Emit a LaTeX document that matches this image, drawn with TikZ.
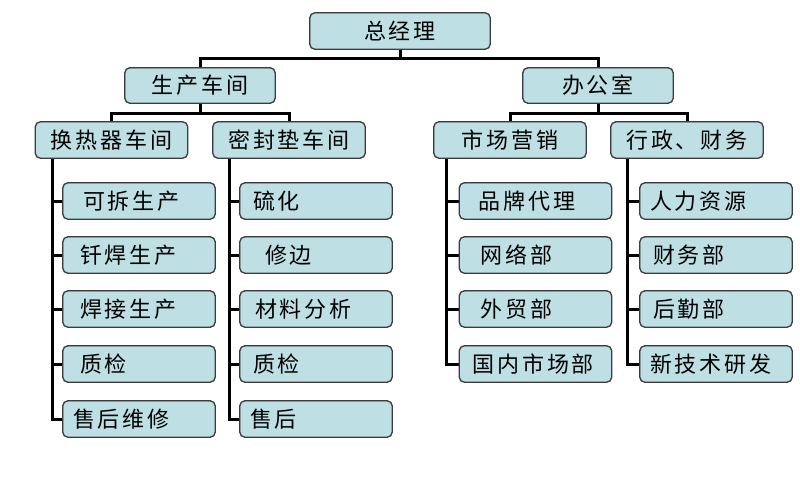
\documentclass[tikz,border=0pt]{standalone}
\usepackage{fontspec}
\newfontfamily\cjk[LetterSpace=13]{Noto Sans CJK SC}
\definecolor{boxfill}{RGB}{190,224,228}
\definecolor{boxline}{RGB}{60,60,60}
\begin{document}
\begin{tikzpicture}[x=1pt,y=-1pt,
  box/.style={draw=boxline, line width=0.8pt, fill=boxfill, rounded corners=5pt,
    minimum height=36pt, inner sep=0pt, font=\cjk\fontsize{22}{26}\selectfont},
  mid/.style={box, minimum width=152pt},
  leaf/.style={box, minimum width=152pt, text width=142pt, align=left, inner xsep=5pt},
  conn/.style={line width=3pt, black}]
\useasboundingbox (0,0) rectangle (800,496);
% top levels
\node[box, minimum width=180pt] (gm) at (400,31) {总经理};
\node[box, minimum width=150pt, minimum height=35pt] (sc) at (200,85.5) {生产车间};
\node[box, minimum width=150pt, minimum height=35pt] (bg) at (598,85.5) {办公室};
\node[mid] (hr) at (111.5,140) {换热器车间};
\node[mid] (mf) at (289,140) {密封垫车间};
\node[mid] (yx) at (510,140) {市场营销};
\node[mid] (xz) at (687,140) {行政、财务};
% column 1
\node[leaf] (a1) at (139,201) {\hspace*{15pt}可拆生产};
\node[leaf] (a2) at (139,255) {\hspace*{12pt}钎焊生产};
\node[leaf] (a3) at (139,309) {\hspace*{12pt}焊接生产};
\node[leaf] (a4) at (139,364) {\hspace*{12pt}质检};
\node[leaf] (a5) at (139,419) {\hspace*{5pt}售后维修};
% column 2
\node[leaf] (b1) at (316,201) {\hspace*{8pt}硫化};
\node[leaf] (b2) at (316,255) {\hspace*{20pt}修边};
\node[leaf] (b3) at (316,309) {\hspace*{10pt}材料分析};
\node[leaf] (b4) at (316,364) {\hspace*{8pt}质检};
\node[leaf] (b5) at (316,419) {\hspace*{5pt}售后};
% column 3
\node[leaf] (c1) at (535.5,201) {\hspace*{14pt}品牌代理};
\node[leaf] (c2) at (535.5,255) {\hspace*{16pt}网络部};
\node[leaf] (c3) at (535.5,309) {\hspace*{16pt}外贸部};
\node[leaf] (c4) at (535.5,364) {\hspace*{8pt}国内市场部};
% column 4
\node[leaf] (d1) at (716,201) {\hspace*{5pt}人力资源};
\node[leaf] (d2) at (716,255) {\hspace*{8pt}财务部};
\node[leaf] (d3) at (716,309) {\hspace*{8pt}后勤部};
\node[leaf] (d4) at (716,364) {\hspace*{5pt}新技术研发};
% connectors
\coordinate (j0) at ([yshift=-9pt]gm.south);
\draw[conn] (gm.south) -- (j0) -| (sc.north);
\draw[conn] (j0) -| (bg.north);
\coordinate (j1) at ([yshift=-10pt]sc.south);
\draw[conn] (sc.south) -- (j1) -| (hr.north);
\draw[conn] (j1) -| (mf.north);
\coordinate (j2) at ([yshift=-10pt]bg.south);
\draw[conn] (bg.south) -- (j2) -| (yx.north);
\draw[conn] (j2) -| (xz.north);
\coordinate (ha) at ([xshift=17pt]hr.south west);
\coordinate (ma) at ([xshift=17pt]mf.south west);
\coordinate (ya) at ([xshift=13pt]yx.south west);
\coordinate (xa) at ([xshift=17pt]xz.south west);
\foreach \n in {a1,a2,a3,a4,a5} \draw[conn] (ha) |- (\n.west);
\foreach \n in {b1,b2,b3,b4,b5} \draw[conn] (ma) |- (\n.west);
\foreach \n in {c1,c2,c3,c4} \draw[conn] (ya) |- (\n.west);
\foreach \n in {d1,d2,d3,d4} \draw[conn] (xa) |- (\n.west);
% redraw box outlines on top of connector ends
\foreach \n in {a1,a2,a3,a4,a5,b1,b2,b3,b4,b5,c1,c2,c3,c4,d1,d2,d3,d4,hr,mf,yx,xz,sc,bg,gm}
  \draw[boxline, line width=0.8pt, rounded corners=5pt] (\n.south west) rectangle (\n.north east);
\end{tikzpicture}
\end{document}
